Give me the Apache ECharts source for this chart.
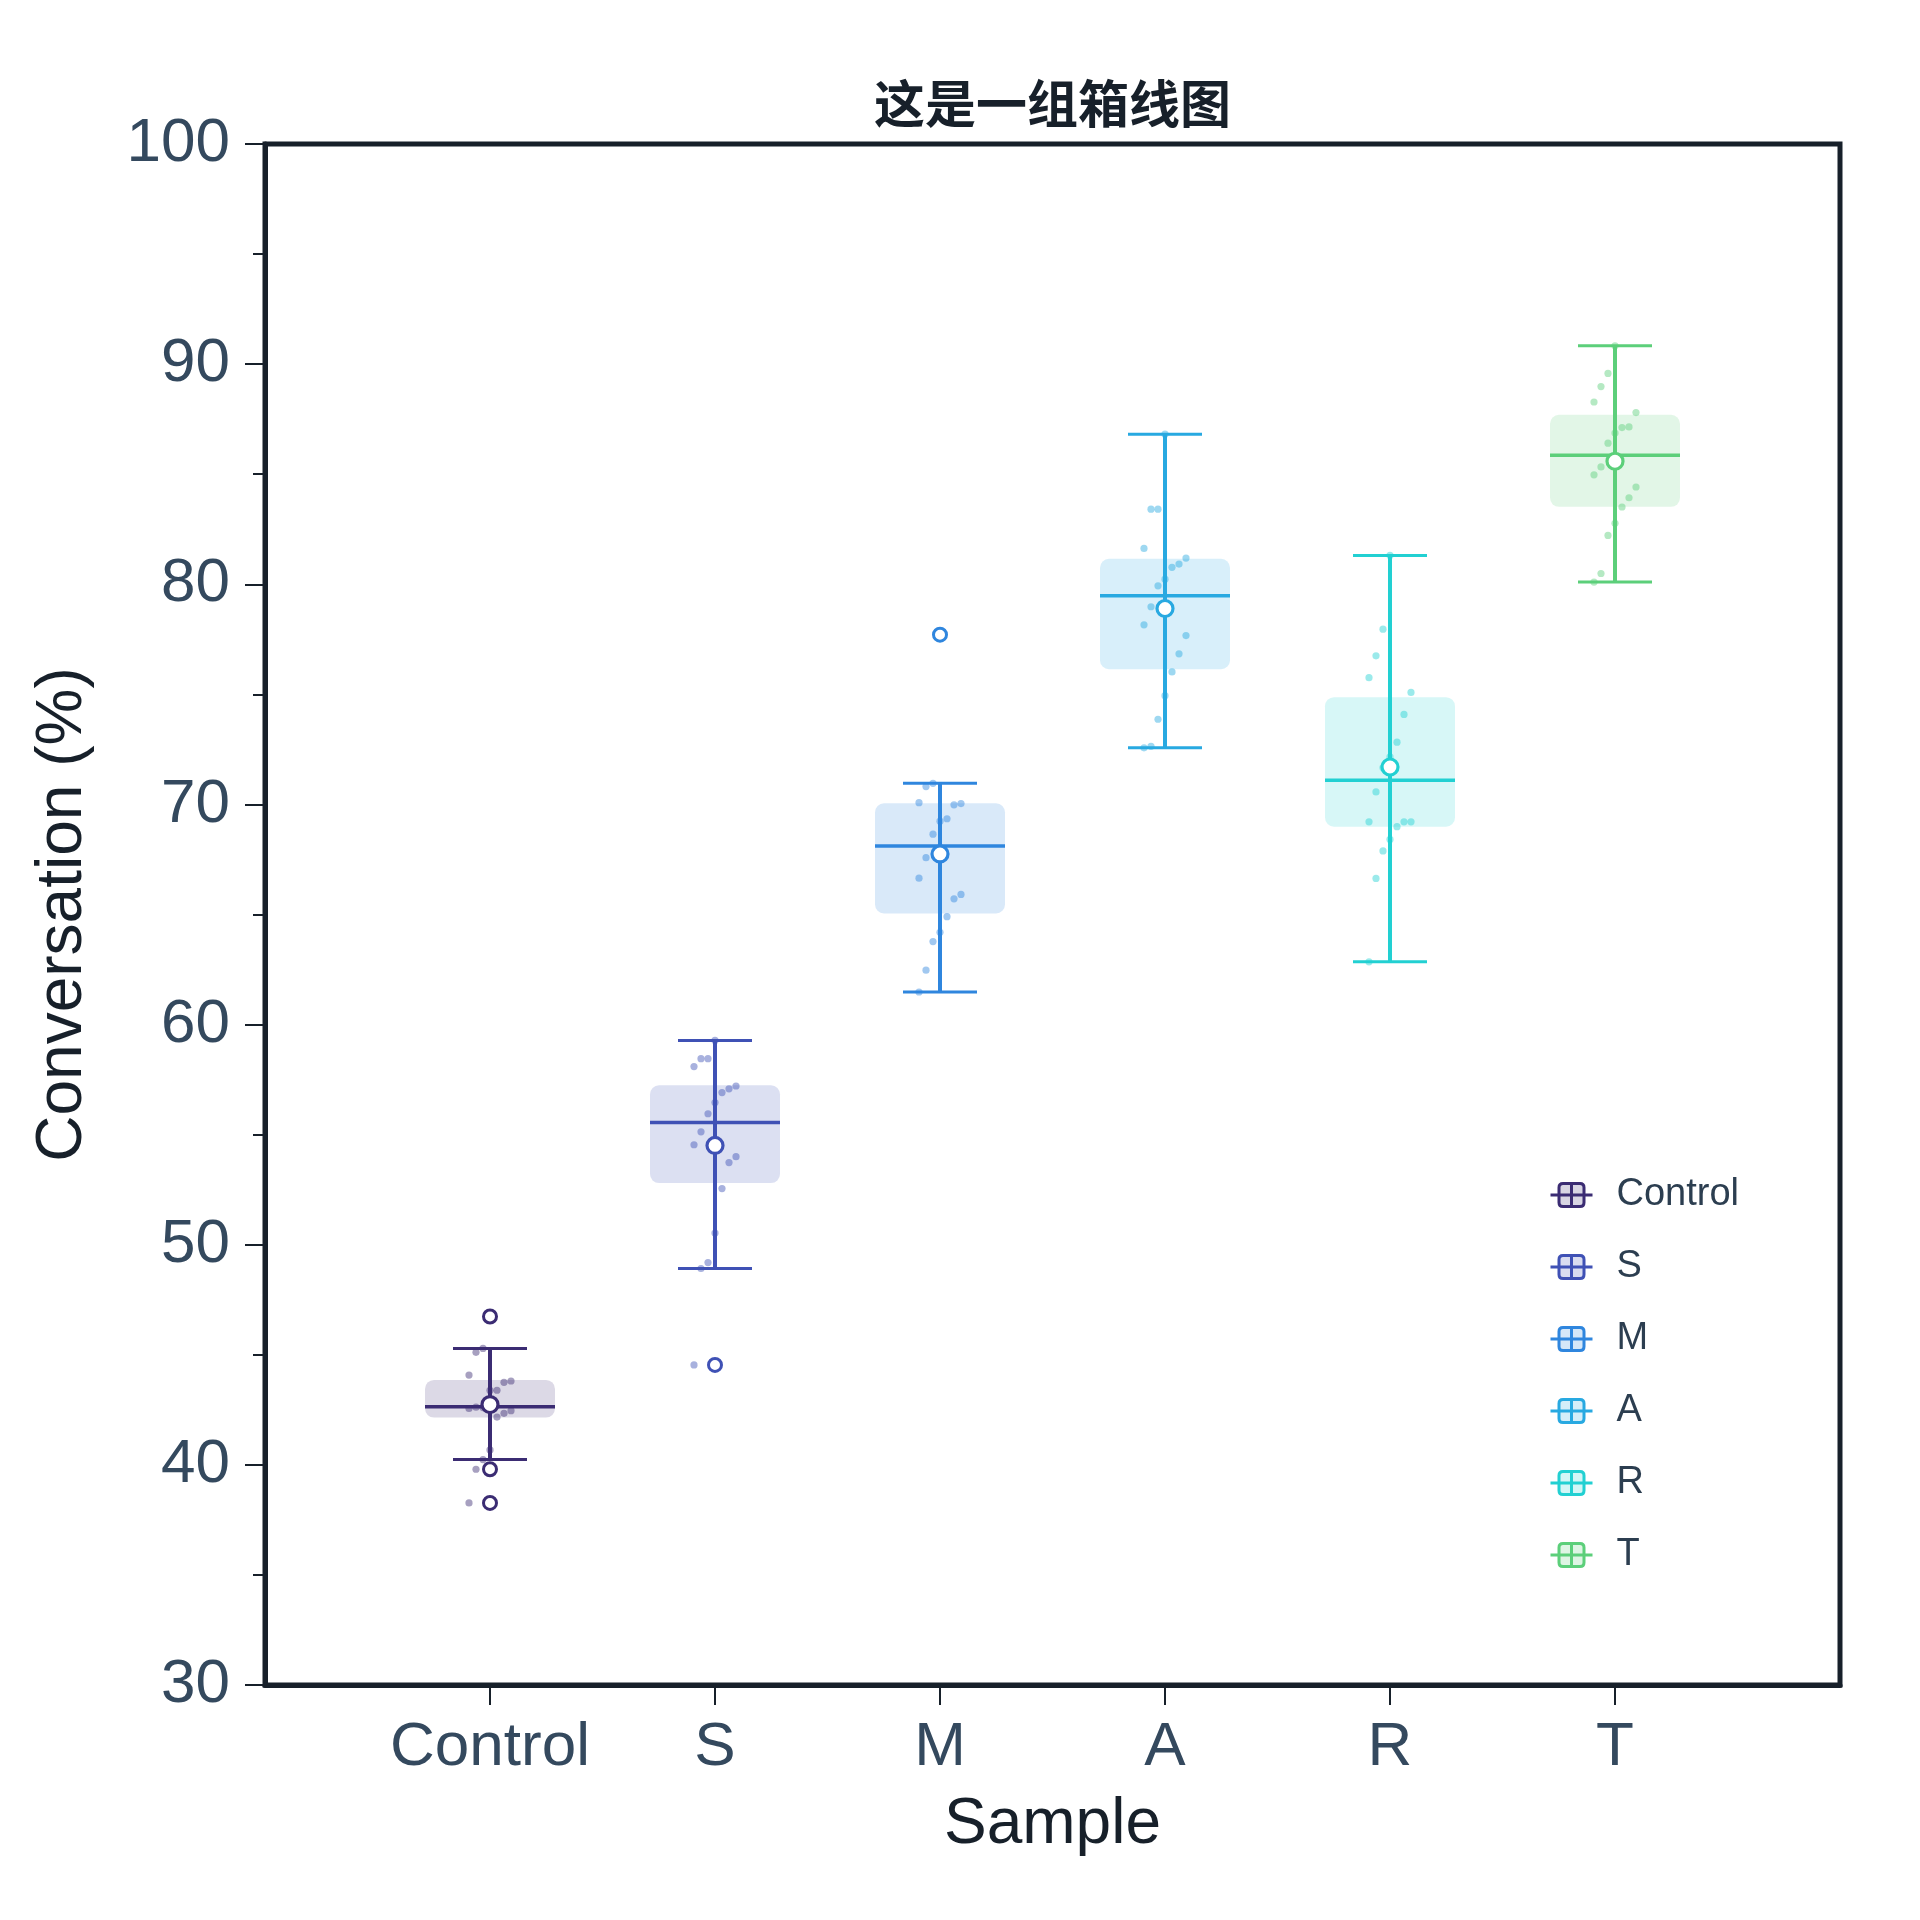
<!DOCTYPE html>
<html>
<head>
<meta charset="utf-8">
<title>这是一组箱线图</title>
<script src="https://cdn.jsdelivr.net/npm/echarts@6/dist/echarts.min.js"></script>
<style>
  html, body { margin: 0; padding: 0; background: #fff; }
  #chart { width: 1920px; height: 1920px; }
</style>
</head>
<body>
<div id="chart"></div>
<script>
// 分组
const categories = ['Control', 'S', 'M', 'A', 'R', 'T'];

// 箱线统计值
const lowerWhisker = [40.24, 48.92, 61.48, 72.57, 62.85, 80.10];
const q1Values = [42.15, 52.80, 65.05, 76.14, 68.99, 83.52];
const medians = [42.64, 55.55, 68.11, 79.48, 71.10, 85.86];
const q3Values = [43.86, 57.24, 70.05, 81.16, 74.87, 87.70];
const upperWhisker = [45.29, 59.28, 70.96, 86.82, 81.31, 90.83];
const means = [42.74, 54.51, 67.75, 78.90, 71.70, 85.59];
const outliers = [[38.27, 39.80, 46.74], [44.54], [77.71], [], [], []];

// 原始样本点（升序）
const pointsControl = [38.27, 39.80, 40.24, 40.68, 42.17, 42.34, 42.46, 42.56, 42.62,
  42.60, 43.38, 43.39, 43.75, 43.81, 44.08, 45.11, 45.29, 46.74];
const pointsS = [44.54, 48.92, 49.19, 50.53, 52.55, 53.73, 54.00, 54.54, 55.13,
  55.95, 56.46, 56.91, 57.08, 57.21, 58.09, 58.45, 58.45, 59.28];
const pointsM = [61.48, 62.47, 63.77, 64.19, 64.90, 65.71, 65.91, 66.65, 67.58,
  68.65, 69.24, 69.35, 69.98, 70.04, 70.08, 70.81, 70.96, 77.71];
const pointsA = [72.57, 72.64, 73.87, 74.94, 76.02, 76.84, 77.67, 78.16, 78.98,
  79.93, 80.23, 80.77, 80.92, 81.19, 81.63, 83.41, 83.41, 86.82];
const pointsR = [62.85, 66.64, 67.89, 68.41, 68.99, 69.21, 69.21, 69.21, 70.57,
  71.67, 72.16, 72.83, 74.09, 75.09, 75.76, 76.75, 77.96, 81.31];
const pointsT = [80.10, 80.49, 82.22, 82.77, 83.51, 83.93, 84.42, 84.97, 85.33,
  86.41, 86.87, 87.12, 87.15, 87.80, 88.28, 88.98, 89.58, 90.83];
const allPoints = [pointsControl, pointsS, pointsM, pointsA, pointsR, pointsT];

// 样式
const colors = ['#3b2c73', '#3f51b5', '#2f86de', '#28a9e1', '#22d0d2', '#5ccf7a'];
const fontFamily = '"Liberation Sans", Arial, sans-serif';
const axisColor = '#17202a';
const labelColor = '#34495e';
const boxWidth = 130;
const capWidth = 74;
const dotStep = 7;
const legendIcon = 'path://M0,12L42,12M12.5,0.5H29.5Q33.5,0.5 33.5,4.5V19.5Q33.5,23.5 29.5,23.5H12.5Q8.5,23.5 8.5,19.5V4.5Q8.5,0.5 12.5,0.5ZM21,0.5L21,23.5';

function fade(hex, a) {
  const n = parseInt(hex.slice(1), 16);
  return 'rgba(' + (n >> 16) + ',' + ((n >> 8) & 255) + ',' + (n & 255) + ',' + a + ')';
}

// 箱体 + 须线 + 中位线
function renderBox(params, api) {
  const x = api.value(0);
  const low = api.coord([x, api.value(1)]);
  const q1 = api.coord([x, api.value(2)]);
  const med = api.coord([x, api.value(3)]);
  const q3 = api.coord([x, api.value(4)]);
  const high = api.coord([x, api.value(5)]);
  const color = api.visual('color');
  const cx = med[0];
  const line = (x1, y1, x2, y2, w) => ({
    type: 'line',
    shape: { x1, y1, x2, y2 },
    style: { stroke: color, lineWidth: w }
  });
  return {
    type: 'group',
    children: [
      {
        type: 'rect',
        shape: { x: cx - boxWidth / 2, y: q3[1], width: boxWidth, height: q1[1] - q3[1], r: 9 },
        style: { fill: fade(color, 0.18) }
      },
      line(cx, low[1], cx, high[1], 4),
      line(cx - capWidth / 2, low[1], cx + capWidth / 2, low[1], 3),
      line(cx - capWidth / 2, high[1], cx + capWidth / 2, high[1], 3),
      line(cx - boxWidth / 2, med[1], cx + boxWidth / 2, med[1], 3.5)
    ]
  };
}

// 抖动散点：按升序序号左右错开
function renderDot(params, api) {
  const p = api.coord([api.value(0), api.value(1)]);
  const dx = ((api.value(2) % 7) - 3) * dotStep;
  return {
    type: 'circle',
    shape: { cx: p[0] + dx, cy: p[1], r: 3.6 },
    style: { fill: fade(api.visual('color'), 0.45) }
  };
}

const series = [];
categories.forEach((name, i) => {
  series.push({
    name,
    type: 'custom',
    z: 2,
    itemStyle: { color: colors[i] },
    renderItem: renderBox,
    encode: { x: 0, y: [1, 2, 3, 4, 5] },
    data: [[i, lowerWhisker[i], q1Values[i], medians[i], q3Values[i], upperWhisker[i]]]
  });
  series.push({
    name,
    type: 'custom',
    z: 3,
    itemStyle: { color: colors[i] },
    renderItem: renderDot,
    encode: { x: 0, y: 1 },
    data: allPoints[i].map((v, k) => [i, v, k])
  });
  series.push({
    name,
    type: 'scatter',
    z: 4,
    symbol: 'circle',
    symbolSize: 13,
    itemStyle: { color: '#fff', borderColor: colors[i], borderWidth: 3, opacity: 1 },
    data: outliers[i].map(v => [i, v])
  });
  series.push({
    name,
    type: 'scatter',
    z: 5,
    symbol: 'circle',
    symbolSize: 16,
    itemStyle: { color: '#fff', borderColor: colors[i], borderWidth: 3.2, opacity: 1 },
    data: [[i, means[i]]]
  });
});

const chart = echarts.init(document.getElementById('chart'));
chart.setOption({
  animation: false,
  backgroundColor: '#fff',
  title: {
    text: '这是一组箱线图',
    left: 869,
    top: 73,
    textStyle: { fontSize: 51, fontWeight: 'bold', color: axisColor, fontFamily: '"Noto Sans CJK SC", sans-serif' }
  },
  grid: {
    left: 265, right: 80, top: 144, bottom: 235,
    containLabel: false,
    outerBoundsMode: 'none',
    show: true,
    borderColor: axisColor,
    borderWidth: 5
  },
  legend: {
    orient: 'vertical',
    left: 1544,
    top: 1171,
    itemWidth: 42,
    itemHeight: 24,
    itemGap: 34,
    textStyle: { fontSize: 38, color: '#2c3e50', fontFamily, padding: [0, 0, 0, 19] },
    data: categories.map((name, i) => ({
      name,
      icon: legendIcon,
      itemStyle: { color: fade(colors[i], 0.2), borderColor: colors[i], borderWidth: 3 }
    }))
  },
  xAxis: {
    type: 'value',
    min: -1,
    max: 6,
    interval: 1,
    name: 'Sample',
    nameLocation: 'middle',
    nameGap: 108,
    nameTextStyle: { fontSize: 64, color: axisColor, fontFamily },
    axisLine: { show: true, onZero: false, lineStyle: { color: axisColor, width: 5 } },
    axisTick: {
      show: true,
      customValues: categories.map((c, i) => i),
      length: 20,
      lineStyle: { color: axisColor, width: 2 }
    },
    axisLabel: {
      customValues: categories.map((c, i) => i),
      formatter: v => categories[v] || '',
      fontSize: 62,
      color: labelColor,
      fontFamily,
      margin: 32
    },
    splitLine: { show: false }
  },
  yAxis: {
    type: 'value',
    min: 30,
    max: 100,
    interval: 10,
    name: 'Conversation (%)',
    nameLocation: 'middle',
    nameGap: 170,
    nameTextStyle: { fontSize: 64, color: axisColor, fontFamily },
    axisLine: { show: true, onZero: false, lineStyle: { color: axisColor, width: 5 } },
    axisTick: { show: true, length: 20, lineStyle: { color: axisColor, width: 2 } },
    minorTick: { show: true, splitNumber: 2, length: 12, lineStyle: { color: axisColor, width: 2 } },
    axisLabel: { fontSize: 62, color: labelColor, fontFamily, margin: 35 },
    splitLine: { show: false },
    minorSplitLine: { show: false }
  },
  series
});
</script>
</body>
</html>
